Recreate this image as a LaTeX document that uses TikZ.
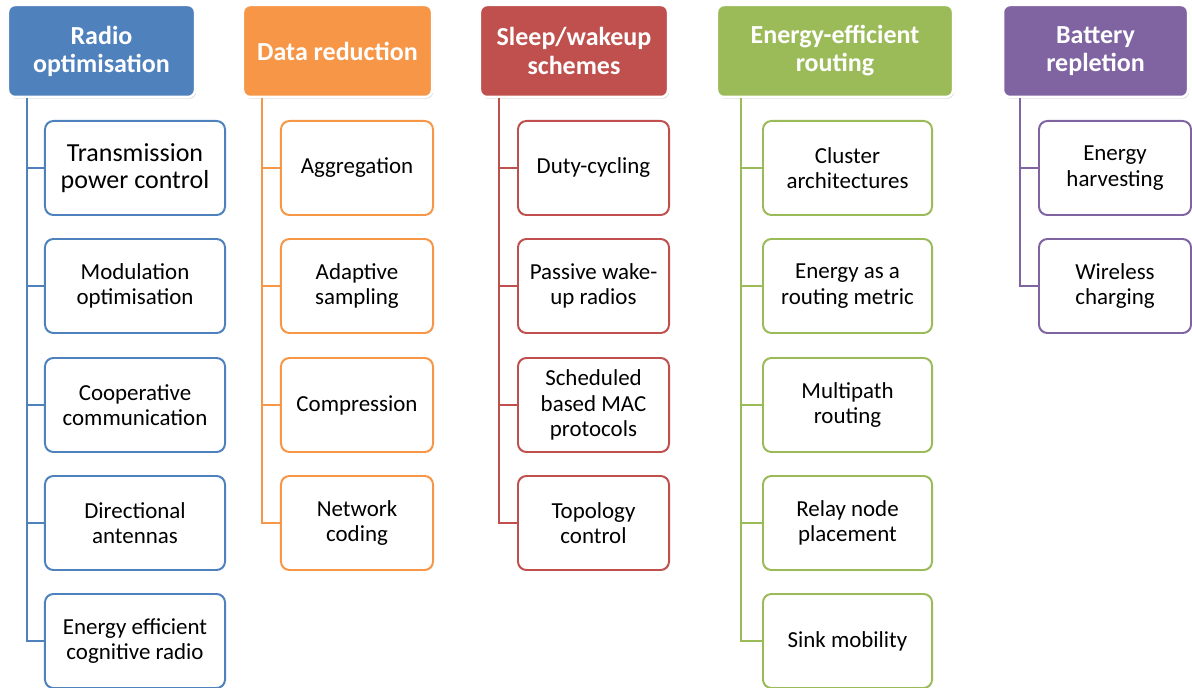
\documentclass[tikz,border=0pt]{standalone}
\usepackage{fontspec}
\setmainfont{Carlito}
\usepackage{tikz}
\usetikzlibrary{shadows}

\definecolor{radioblue}{HTML}{4F81BD}
\definecolor{dataorange}{HTML}{F79646}
\definecolor{sleepred}{HTML}{C0504D}
\definecolor{routegreen}{HTML}{9BBB59}
\definecolor{battpurple}{HTML}{8064A2}

\tikzset{
  head/.style={rectangle, rounded corners=5pt, fill=#1, draw=white, line width=1.8pt,
    drop shadow={opacity=0.35, shadow xshift=0.8pt, shadow yshift=-1.2pt},
    text=white, align=center, minimum height=2.3cm,
    font=\fontsize{18.5}{20}\selectfont\bfseries},
  leaf/.style={rectangle, rounded corners=6pt, fill=white, draw=#1, line width=1.4pt,
    text=black, align=center, minimum height=2.35cm,
    font=\fontsize{16.3}{18}\selectfont},
  trunk/.style={draw=#1, line width=1.5pt},
}

\begin{document}
\begin{tikzpicture}[x=0.025cm, y=-0.025cm]
			\useasboundingbox (0,0) rectangle (1192,688);
			% headers
			\node[head=radioblue, minimum width=4.675cm] (radio) at (101.5,51) {Radio\\optimisation};
			\node[head=dataorange, minimum width=4.725cm] (datared) at (337.5,51) {Data reduction};
			\node[head=sleepred, minimum width=4.7cm] (sleep) at (574,51) {Sleep/wakeup\\schemes};
			\node[head=routegreen, minimum width=5.9cm] (routing) at (835,51) {Energy-efficient\\routing};
			\node[head=battpurple, minimum width=4.625cm] (battery) at (1095.5,51) {Battery\\repletion};
			% radio optimisation
			\node[leaf=radioblue, minimum width=4.5cm, font=\fontsize{18.5}{19.5}\selectfont] (txpower) at (135,168) {Transmission\\power control};
			\node[leaf=radioblue, minimum width=4.5cm] (modopt) at (135,286) {Modulation\\optimisation};
			\node[leaf=radioblue, minimum width=4.5cm] (coopcomm) at (135,405) {Cooperative\\communication};
			\node[leaf=radioblue, minimum width=4.5cm] (dirant) at (135,523) {Directional\\antennas};
			\node[leaf=radioblue, minimum width=4.5cm] (cogradio) at (135,641) {Energy efficient\\cognitive radio};
			% data reduction
			\node[leaf=dataorange, minimum width=3.8cm] (aggr) at (357,168) {Aggregation};
			\node[leaf=dataorange, minimum width=3.8cm] (adsamp) at (357,286) {Adaptive\\sampling};
			\node[leaf=dataorange, minimum width=3.8cm] (compr) at (357,405) {Compression};
			\node[leaf=dataorange, minimum width=3.8cm] (netcod) at (357,523) {Network\\coding};
			% sleep/wakeup
			\node[leaf=sleepred, minimum width=3.775cm] (duty) at (593.5,168) {Duty-cycling};
			\node[leaf=sleepred, minimum width=3.775cm] (passwake) at (593.5,286) {Passive wake-\\up radios};
			\node[leaf=sleepred, minimum width=3.775cm] (schedmac) at (593.5,405) {Scheduled\\based MAC\\protocols};
			\node[leaf=sleepred, minimum width=3.775cm] (topo) at (593.5,523) {Topology\\control};
			% routing
			\node[leaf=routegreen, minimum width=4.225cm] (cluster) at (847.5,168) {Cluster\\architectures};
			\node[leaf=routegreen, minimum width=4.225cm] (metric) at (847.5,286) {Energy as a\\routing metric};
			\node[leaf=routegreen, minimum width=4.225cm] (multipath) at (847.5,405) {Multipath\\routing};
			\node[leaf=routegreen, minimum width=4.225cm] (relay) at (847.5,523) {Relay node\\placement};
			\node[leaf=routegreen, minimum width=4.225cm] (sink) at (847.5,641) {Sink mobility};
			% battery repletion
			\node[leaf=battpurple, minimum width=3.8cm] (harvest) at (1115,168) {Energy\\harvesting};
			\node[leaf=battpurple, minimum width=3.8cm] (wlcharge) at (1115,286) {Wireless\\charging};
			% trunks
			\coordinate (radiotop) at (27,98);
			\coordinate (datatop) at (262,98);
			\coordinate (sleeptop) at (499,98);
			\coordinate (routetop) at (741,98);
			\coordinate (batttop) at (1020,98);
			\draw[trunk=radioblue] (radiotop) |- (txpower) (radiotop) |- (modopt) (radiotop) |- (coopcomm) (radiotop) |- (dirant) (radiotop) |- (cogradio);
			\draw[trunk=dataorange] (datatop) |- (aggr) (datatop) |- (adsamp) (datatop) |- (compr) (datatop) |- (netcod);
			\draw[trunk=sleepred] (sleeptop) |- (duty) (sleeptop) |- (passwake) (sleeptop) |- (schedmac) (sleeptop) |- (topo);
			\draw[trunk=routegreen] (routetop) |- (cluster) (routetop) |- (metric) (routetop) |- (multipath) (routetop) |- (relay) (routetop) |- (sink);
			\draw[trunk=battpurple] (batttop) |- (harvest) (batttop) |- (wlcharge);
		\end{tikzpicture}
\end{document}
